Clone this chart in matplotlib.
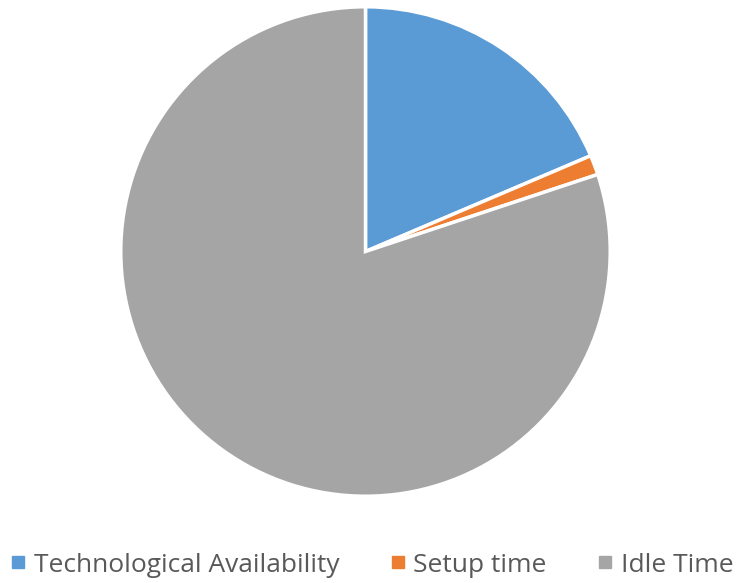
import matplotlib.pyplot as plt
from matplotlib.lines import Line2D

labels = ["Technological Availability", "Setup time", "Idle Time"]
values = [18.6, 1.3, 80.1]
colors = ["#5B9BD5", "#ED7D31", "#A5A5A5"]

fig = plt.figure(figsize=(7.36, 5.83), dpi=100)
ax = fig.add_axes([122/736, 88/583, 487/736, 487/583])
ax.pie(values, colors=colors, startangle=90, counterclock=False,
       wedgeprops=dict(edgecolor="white", linewidth=2.5))
ax.set_xlim(-0.995, 0.995)
ax.set_ylim(-0.995, 0.995)
ax.set_aspect("equal")

handles = [Line2D([], [], marker="s", linestyle="", color=c, markersize=8) for c in colors]
leg = fig.legend(handles, labels, loc="center", bbox_to_anchor=(0.505, 1 - 565/583),
                 ncol=3, frameon=False, fontsize=19, handletextpad=0.3,
                 columnspacing=1.9, handlelength=0.6, borderaxespad=0, borderpad=0)
for t in leg.get_texts():
    t.set_color("#595959")
    t.set_family("Open Sans")

fig.savefig("out.png", dpi=100)
